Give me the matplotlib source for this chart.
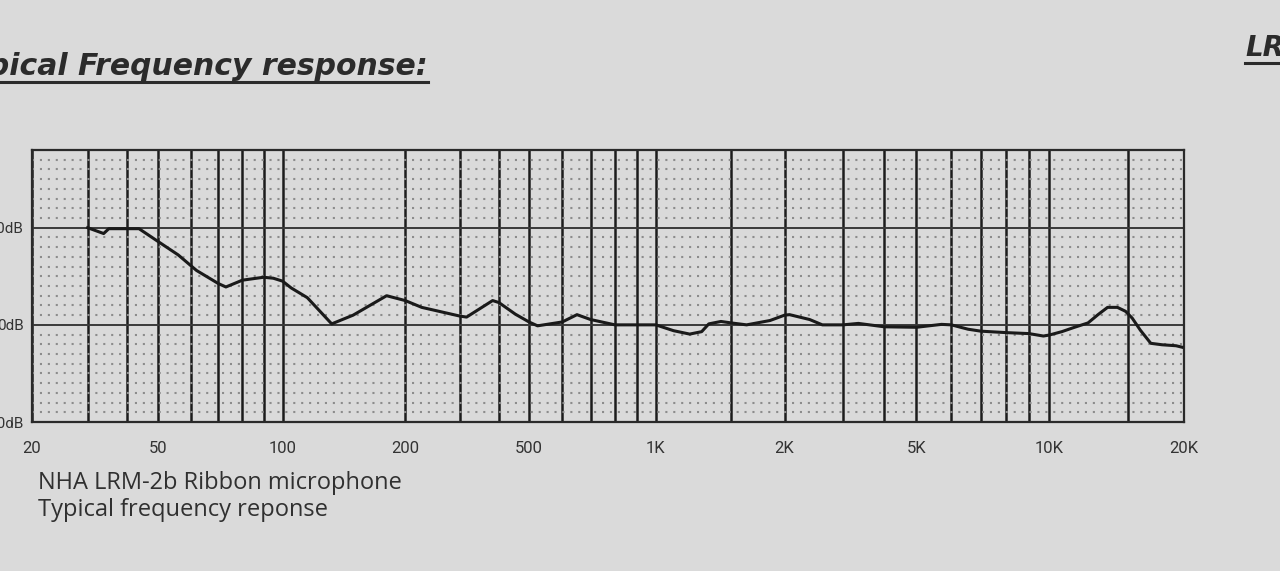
import matplotlib
matplotlib.use("Agg")
import matplotlib.pyplot as plt
import numpy as np
from matplotlib.lines import Line2D

# Frequency response (Hz, dB)
freq_hz = [30, 33.7, 35, 43.6, 50, 56, 62, 70, 73, 80, 90, 95, 100, 105, 115,
           132, 149, 180, 200, 226, 300, 315, 382, 400, 452, 500, 524,
           600, 650, 700, 800, 900, 1000, 1100, 1200, 1280, 1330, 1420, 1500,
           1630, 1850, 2000, 2070, 2380, 2600, 3000, 3340, 4000, 5000, 5700,
           6000, 6550, 7000, 8000, 9000, 9700, 10000, 10670, 11390, 12210,
           12850, 13500, 14200, 14800, 15320, 15980, 16860, 17870, 19200, 19800]
level_db = [10.0, 9.4, 9.9, 9.9, 8.6, 7.2, 5.6, 4.25, 3.9, 4.6, 4.9, 4.8, 4.5, 3.8, 2.8,
            0.1, 1.0, 3.0, 2.5, 1.8, 0.9, 0.8, 2.5, 2.3, 1.1, 0.3, -0.1,
            0.3, 1.05, 0.55, 0.0, 0.0, 0.0, -0.6, -0.95, -0.7, 0.1, 0.35, 0.2,
            0.0, 0.45, 1.0, 1.05, 0.55, 0.0, 0.0, 0.15, -0.2, -0.25, 0.05,
            0.0, -0.45, -0.65, -0.8, -0.9, -1.15, -1.05, -0.7, -0.25, 0.2,
            1.05, 1.8, 1.8, 1.4, 0.7, -0.55, -1.9, -2.05, -2.15, -2.3]

label_freqs = [20, 50, 100, 200, 500, 1000, 2000, 5000, 10000, 20000]
label_text = ["20", "50", "100", "200", "500", "1K", "2K", "5K", "10K", "20K"]
grid_freqs = [30, 40, 50, 60, 70, 80, 90, 100,
              200, 300, 400, 500, 600, 700, 800, 900, 1000, 1500,
              2000, 3000, 4000, 5000, 6000, 7000, 8000, 9000, 10000, 15000]
db_ticks = [-10, 0, 10]
db_labels = ["-10dB", "0dB", "+10dB"]
dot_rows = [d for d in range(-9, 18) if d not in db_ticks]

# the printed axis is not a clean log axis: the labels sit evenly spaced,
# so map log(f) piecewise onto where each label lands
stops = [0, 0.1092, 0.2175, 0.3240, 0.4314, 0.5415, 0.6533, 0.7677, 0.8830, 1.0]
log_labels = np.log10(label_freqs)


def fwd(f):
    f = np.clip(np.asarray(f, dtype=float), 1e-6, None)
    return np.interp(np.log10(f), log_labels, stops)


def inv(p):
    return 10 ** np.interp(np.asarray(p, dtype=float), stops, log_labels)


paper = "#dadada"
ink = "#2b2b2b"

fig = plt.figure(figsize=(12.8, 5.71), dpi=100, facecolor=paper)
ax = fig.add_axes([32 / 1280, 1 - 422 / 571, 1152 / 1280, 272 / 571], facecolor=paper)

ax.set_xscale("function", functions=(fwd, inv))
ax.set_xlim(20, 20000)
ax.set_ylim(-10, 18)

ax.set_xticks(label_freqs, label_text)
ax.set_xticks(grid_freqs, minor=True)
ax.set_yticks(db_ticks, db_labels)
ax.set_yticks(dot_rows, minor=True)

ax.tick_params(which="both", length=0)
ax.tick_params(axis="x", pad=14, labelsize=12, labelcolor="#333333")
ax.tick_params(axis="y", pad=6, labelsize=11, labelcolor="#333333")
for lab in ax.get_xticklabels() + ax.get_yticklabels():
    lab.set_family("Roboto")

# dot-matrix background, then the solid grid
ax.grid(axis="y", which="minor", color="#8c8c8c", lw=1.5,
        linestyle=(0, (1, 2.8)), zorder=0)
ax.grid(axis="y", which="major", color="#3a3a3a", lw=1.4, zorder=1)
ax.grid(axis="x", which="both", color="#1c1c1c", lw=1.8, zorder=1)
ax.set_axisbelow(True)

for sp in ax.spines.values():
    sp.set_color("#2a2a2a")
    sp.set_linewidth(1.6)

ax.plot(freq_hz, level_db, color="#1a1a1a", lw=2.2, zorder=3)

# heading (cut by the photo edge, as in the photo) and captions
title = fig.text(428 / 1280, 1 - 75 / 571, "Typical Frequency response:",
                 ha="right", va="baseline", fontsize=21.5, fontweight="bold",
                 fontstyle="italic", family="DejaVu Sans", color=ink)
corner = fig.text(1245 / 1280, 1 - 56 / 571, "LRM-2b", ha="left", va="baseline",
                  fontsize=20, fontweight="bold", fontstyle="italic",
                  family="DejaVu Sans", color=ink)
fig.text(38 / 1280, 1 - 489 / 571, "NHA LRM-2b Ribbon microphone", ha="left",
         va="baseline", fontsize=17, family="Open Sans", color="#303030")
fig.text(38 / 1280, 1 - 516 / 571, "Typical frequency reponse", ha="left",
         va="baseline", fontsize=17, family="Open Sans", color="#303030")

# underline the two headings
fig.canvas.draw()
r = fig.canvas.get_renderer()
for t, y in [(title, 1 - 82 / 571), (corner, 1 - 63 / 571)]:
    bb = t.get_window_extent(r).transformed(fig.transFigure.inverted())
    fig.add_artist(Line2D([bb.x0, bb.x1], [y, y], transform=fig.transFigure,
                          color=ink, lw=2.2))

fig.savefig("out.png", dpi=100, facecolor=paper)
